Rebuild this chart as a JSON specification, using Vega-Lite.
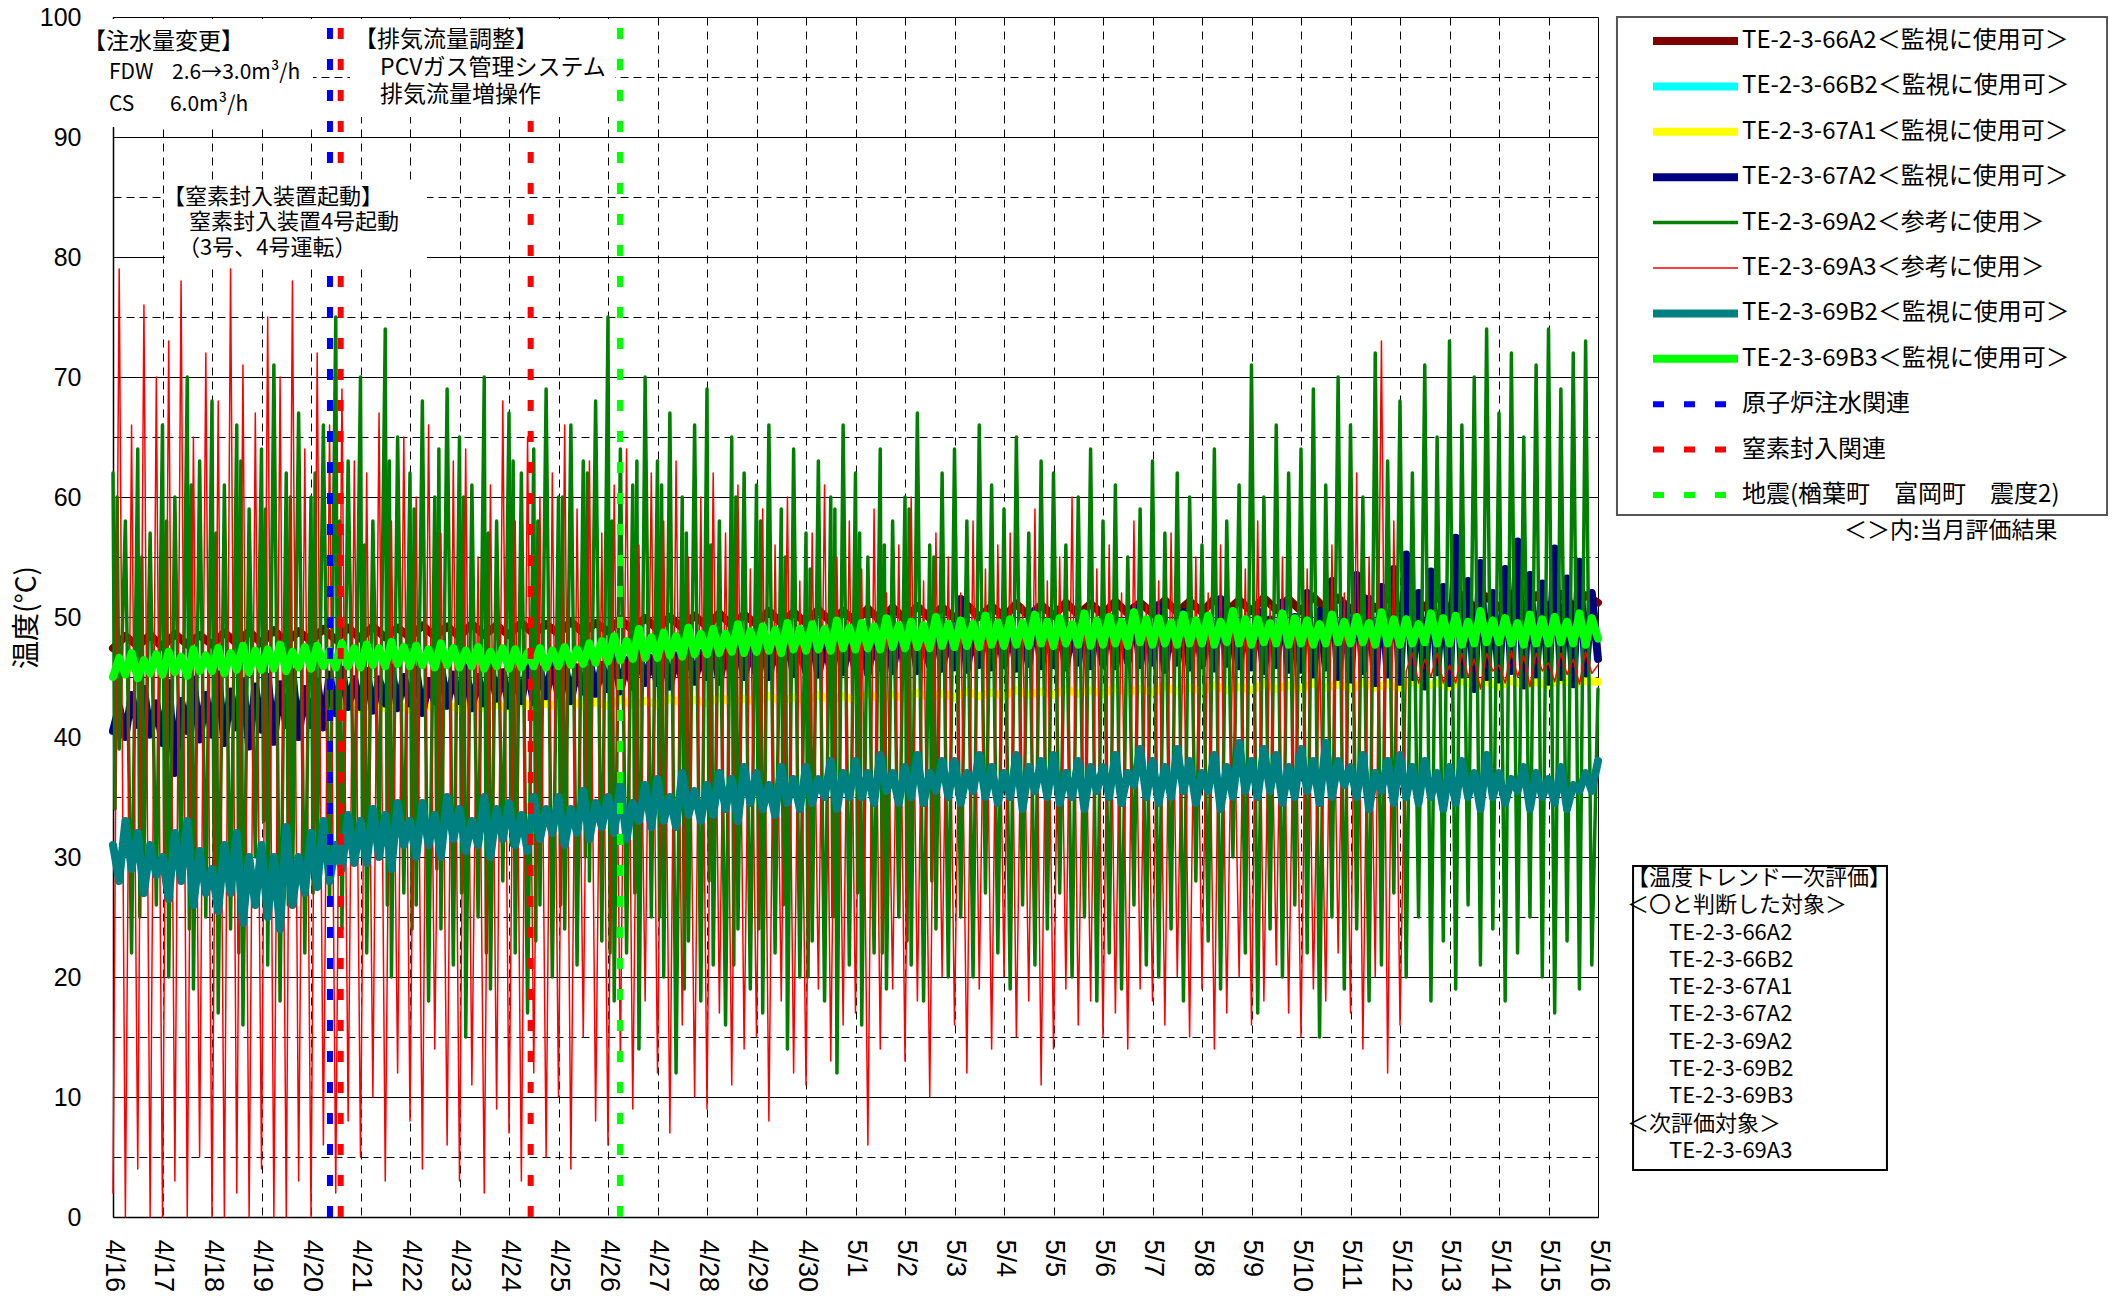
{
"$schema":"https://vega.github.io/schema/vega-lite/v6.json",
"width":1485,"height":1200,
"autosize":{"type":"none"},
"padding":{"left":113,"top":17,"right":520,"bottom":84},
"background":"white",
"config":{
 "view":{"stroke":null},
 "axis":{"gridColor":"#000","gridOpacity":1,"gridWidth":1,"domainColor":"#000","domainWidth":1.5,"ticks":false,"tickSize":0,"labelColor":"#000","labelFont":"Liberation Sans","labelFontSize":25,"labelOverlap":false,"labelFlush":false,"labelBound":false},
 "axisX":{"labelAngle":90,"labelPadding":22,"labelFontSize":27},
 "axisY":{"labelPadding":32},
 "legend":{"symbolType":"stroke","symbolSize":7225,"clipHeight":22,"rowPadding":21.4,"padding":0,"labelFont":"Noto Sans CJK JP","labelFontSize":24,"labelColor":"#000","labelLimit":0,"labelOffset":0,"symbolOffset":0}
},
"layer":[
{
"data":{"values":[
{"t":0,"a":47.4,"d":40.5,"e":62,"f":2,"g":31,"h":45},
{"t":3,"d":42.5,"e":39,"f":79,"g":28,"h":46.6},
{"t":6,"a":48.4,"d":40,"e":58,"f":0,"g":33,"h":45.2},
{"t":9,"d":43.5,"e":22,"f":66,"g":29,"h":47},
{"t":12,"a":47.6,"d":41,"e":64,"f":4,"g":32,"h":44.9},
{"t":15,"d":44,"e":30,"f":76,"g":27,"h":46.4},
{"t":18,"a":48.5,"d":40.2,"e":57,"f":0,"g":31,"h":45.3},
{"t":21,"d":42.8,"e":26,"f":70,"g":28.5,"h":46.9},
{"t":24,"a":47.5,"d":39.5,"e":66,"f":0,"g":30,"h":45.2},
{"t":27,"d":44.5,"e":20,"f":73,"g":26.5,"h":47.1},
{"t":30,"a":48.6,"d":37,"e":60,"f":3,"g":32,"h":45.4},
{"t":33,"d":43,"e":28,"f":78,"g":28,"h":46.7},
{"t":36,"a":47.7,"d":40.5,"e":70,"f":0,"g":33,"h":45.1},
{"t":39,"d":44.8,"e":19,"f":65,"g":26,"h":47.3},
{"t":42,"a":48.5,"d":39.8,"e":63,"f":5,"g":30.5,"h":45.5},
{"t":45,"d":43.5,"e":25,"f":72,"g":27,"h":46.8},
{"t":48,"a":47.7,"d":40.2,"e":68,"f":0,"g":29,"h":45.5},
{"t":51,"d":45.2,"e":17,"f":68,"g":25.5,"h":47.4},
{"t":54,"a":48.7,"d":39.5,"e":61,"f":0,"g":31,"h":45.3},
{"t":57,"d":43.8,"e":24,"f":79,"g":27,"h":47},
{"t":60,"a":47.8,"d":40.8,"e":66,"f":2,"g":32,"h":45.6},
{"t":63,"d":44.6,"e":16,"f":71,"g":24.5,"h":47.6},
{"t":66,"a":48.8,"d":39.2,"e":59,"f":0,"g":30,"h":45.4},
{"t":69,"d":44.2,"e":30,"f":67,"g":26,"h":47.2},
{"t":72,"a":47.8,"d":40.6,"e":64,"f":4,"g":31,"h":45.6},
{"t":75,"d":45,"e":21,"f":75,"g":25,"h":47.3},
{"t":78,"a":48.9,"d":39.6,"e":71,"f":0,"g":30,"h":45.7},
{"t":81,"d":44.4,"e":18,"f":70,"g":24,"h":47.7},
{"t":84,"a":47.9,"d":41,"e":62,"f":0,"g":32.5,"h":45.5},
{"t":87,"d":45.4,"e":27,"f":78,"g":26,"h":47.1},
{"t":90,"a":48.8,"d":40,"e":67,"f":3,"g":30,"h":45.8},
{"t":93,"d":44,"e":22,"f":64,"g":27,"h":47.5},
{"t":96,"a":48,"c":42.3,"d":41,"e":60,"f":0,"g":32,"h":45.7},
{"t":99,"d":44.6,"e":29,"f":72,"g":27.5,"h":47.6},
{"t":102,"a":49,"c":42.8,"d":40.8,"e":66,"f":6,"g":33,"h":45.9},
{"t":105,"d":45.2,"e":26,"f":66,"g":28,"h":47.2},
{"t":108,"a":48.1,"c":42.4,"d":42,"e":75,"f":2,"g":31,"h":45.8},
{"t":111,"d":45.6,"e":24,"f":69,"g":29,"h":47.8},
{"t":114,"a":49.1,"c":42.7,"d":42.5,"e":63,"f":8,"g":33.5,"h":45.9},
{"t":117,"d":44.8,"e":30,"f":63,"g":29.5,"h":47.4},
{"t":120,"a":48.2,"c":42.3,"d":42.5,"e":70,"f":5,"g":33,"h":45.8},
{"t":123,"d":45.5,"e":22,"f":62,"g":29.5,"h":47.7},
{"t":126,"a":49.2,"c":42.8,"d":42.2,"e":58,"f":10,"g":34,"h":46},
{"t":129,"d":44.8,"e":31,"f":67,"g":30,"h":47.4},
{"t":132,"a":48.3,"c":42.4,"d":42.8,"e":74,"f":3,"g":33.5,"h":45.9},
{"t":135,"d":45.8,"e":20,"f":58,"g":29,"h":47.9},
{"t":138,"a":49.1,"c":42.7,"d":42.4,"e":65,"f":12,"g":34.5,"h":46.1},
{"t":141,"d":45,"e":27,"f":65,"g":31,"h":47.5},
{"t":144,"a":48.3,"c":42.3,"d":42.8,"e":62,"f":8,"g":33,"h":45.9},
{"t":147,"d":45.6,"e":26,"f":60,"g":30,"h":47.6},
{"t":150,"a":49.3,"c":42.8,"d":42,"e":68,"f":4,"g":34.5,"h":46},
{"t":153,"d":44.6,"e":18,"f":66,"g":31,"h":47.3},
{"t":156,"a":48.4,"c":42.4,"d":43,"e":60,"f":14,"g":33.5,"h":45.8},
{"t":159,"d":45.9,"e":24,"f":57,"g":30,"h":47.8},
{"t":162,"a":49.2,"c":42.7,"d":42.6,"e":69,"f":6,"g":35,"h":46},
{"t":165,"d":45.2,"e":21,"f":63,"g":31.5,"h":47.4},
{"t":168,"a":48.4,"c":42.3,"d":43,"e":65,"f":3,"g":34,"h":45.8},
{"t":171,"d":45.8,"e":15,"f":64,"g":30.5,"h":47.2},
{"t":174,"a":49.4,"c":42.8,"d":42.4,"e":61,"f":11,"g":33,"h":45.9},
{"t":177,"d":45,"e":25,"f":55,"g":31,"h":47.5},
{"t":180,"a":48.5,"c":42.4,"d":42.8,"e":70,"f":2,"g":35,"h":45.7},
{"t":183,"d":46,"e":19,"f":61,"g":30,"h":47.1},
{"t":186,"a":49.3,"c":42.7,"d":43.2,"e":58,"f":9,"g":34,"h":45.9},
{"t":189,"d":45.4,"e":28,"f":68,"g":31.5,"h":47.4},
{"t":192,"a":48.5,"c":42.4,"d":42.6,"e":67,"f":7,"g":34.5,"h":45.7},
{"t":195,"d":45.4,"e":22,"f":58,"g":31,"h":47.3},
{"t":198,"a":49.5,"c":42.9,"d":43,"e":62,"f":3,"g":33.5,"h":45.8},
{"t":201,"d":46,"e":17,"f":65,"g":30.5,"h":47},
{"t":204,"a":48.6,"c":42.5,"d":42.9,"e":64,"f":12,"g":35,"h":45.9},
{"t":207,"d":45.6,"e":26,"f":60,"g":31.5,"h":47.4},
{"t":210,"a":49.4,"c":42.8,"d":43.4,"e":69,"f":5,"g":34,"h":45.8},
{"t":213,"d":46.2,"e":20,"f":62,"g":32,"h":47.2},
{"t":216,"a":48.6,"c":42.5,"d":43.5,"e":60,"f":10,"g":35,"h":45.9},
{"t":219,"d":46.2,"e":24,"f":66,"g":31,"h":47.5},
{"t":222,"a":49.6,"c":43,"d":43,"e":66,"f":4,"g":34,"h":46},
{"t":225,"d":45.8,"e":21,"f":59,"g":32,"h":47.3},
{"t":228,"a":48.7,"c":42.6,"d":43.8,"e":63,"f":15,"g":35.5,"h":46.1},
{"t":231,"d":46.5,"e":28,"f":63,"g":31.5,"h":47.8},
{"t":234,"a":49.5,"c":42.9,"d":43.6,"e":68,"f":8,"g":34.5,"h":46.2},
{"t":237,"d":46,"e":23,"f":57,"g":32.5,"h":48},
{"t":240,"a":48.8,"c":42.6,"d":44,"e":75,"f":6,"g":35,"h":46.3},
{"t":243,"d":46.8,"e":18,"f":61,"g":32,"h":48.4},
{"t":246,"a":49.8,"c":43.1,"d":43.8,"e":64,"f":13,"g":36,"h":46.4},
{"t":249,"d":46.4,"e":22,"f":64,"g":31.5,"h":48},
{"t":252,"a":48.9,"c":42.7,"d":44.2,"e":61,"f":9,"g":34.5,"h":46.5},
{"t":255,"d":47,"e":14,"f":56,"g":33,"h":49},
{"t":258,"a":49.9,"c":43,"d":44.5,"e":70,"f":18,"g":36,"h":46.6},
{"t":261,"d":46.6,"e":25,"f":62,"g":32.5,"h":48.3},
{"t":264,"a":49,"c":42.7,"d":44.5,"e":63,"f":12,"g":36.5,"h":46.6},
{"t":267,"d":47.2,"e":20,"f":58,"g":33,"h":48.7},
{"t":270,"a":50,"c":43.2,"d":44.2,"e":67,"f":7,"g":35,"h":46.8},
{"t":273,"d":46.8,"e":12,"f":63,"g":32.5,"h":48.4},
{"t":276,"a":49.1,"c":42.8,"d":44.8,"e":60,"f":16,"g":37,"h":46.7},
{"t":279,"d":47.4,"e":23,"f":55,"g":33.5,"h":49.1},
{"t":282,"a":50.1,"c":43.1,"d":44.6,"e":66,"f":10,"g":35.5,"h":46.9},
{"t":285,"d":47,"e":18,"f":60,"g":33,"h":48.6},
{"t":288,"a":49.2,"c":42.8,"d":45,"e":69,"f":9,"g":36,"h":46.9},
{"t":291,"d":47.5,"e":21,"f":62,"g":33.5,"h":49},
{"t":294,"a":50.3,"c":43.3,"d":44.6,"e":58,"f":17,"g":37,"h":47},
{"t":297,"d":47.2,"e":16,"f":57,"g":34,"h":48.6},
{"t":300,"a":49.3,"c":42.9,"d":45.2,"e":65,"f":11,"g":36.5,"h":47.1},
{"t":303,"d":47.8,"e":24,"f":61,"g":33,"h":49.4},
{"t":306,"a":50.2,"c":43.2,"d":45,"e":62,"f":14,"g":37.5,"h":47},
{"t":309,"d":47.4,"e":19,"f":54,"g":34.5,"h":48.8},
{"t":312,"a":49.4,"c":42.9,"d":45.2,"e":61,"f":15,"g":37,"h":47.1},
{"t":315,"d":48,"e":17,"f":59,"g":34,"h":49.2},
{"t":318,"a":50.5,"c":43.4,"d":45,"e":66,"f":8,"g":36,"h":47.2},
{"t":321,"d":47.6,"e":22,"f":56,"g":33.5,"h":48.9},
{"t":324,"a":49.5,"c":43,"d":45.4,"e":59,"f":18,"g":37.5,"h":47},
{"t":327,"d":48.4,"e":14,"f":60,"g":34.5,"h":49.5},
{"t":330,"a":50.4,"c":43.3,"d":45.3,"e":64,"f":12,"g":36.5,"h":47.3},
{"t":333,"d":47.8,"e":20,"f":53,"g":34,"h":49},
{"t":336,"a":49.5,"c":43,"d":45.5,"e":57,"f":11,"g":37.5,"h":47.2},
{"t":339,"d":48.2,"e":23,"f":57,"g":34.5,"h":49.4},
{"t":342,"a":50.6,"c":43.5,"d":45.2,"e":63,"f":19,"g":36.5,"h":47.3},
{"t":345,"d":47.8,"e":18,"f":61,"g":35,"h":49},
{"t":348,"a":49.6,"c":43.1,"d":45.6,"e":60,"f":13,"g":38,"h":47.2},
{"t":351,"d":48.6,"e":12,"f":55,"g":34,"h":49.7},
{"t":354,"a":50.5,"c":43.4,"d":45.4,"e":66,"f":16,"g":37,"h":47.4},
{"t":357,"d":48,"e":21,"f":58,"g":35,"h":49.1},
{"t":360,"a":49.6,"c":43.1,"d":45.6,"e":62,"f":17,"g":38,"h":47.3},
{"t":363,"d":48.8,"e":16,"f":54,"g":35,"h":49.5},
{"t":366,"a":50.7,"c":43.6,"d":45.3,"e":55,"f":6,"g":37,"h":47.4},
{"t":369,"d":48.2,"e":22,"f":59,"g":34.5,"h":49.2},
{"t":372,"a":49.7,"c":43.2,"d":45.8,"e":64,"f":14,"g":38.5,"h":47.3},
{"t":375,"d":50,"e":19,"f":52,"g":35.5,"h":49.9},
{"t":378,"a":50.8,"c":43.5,"d":45.5,"e":58,"f":19,"g":37,"h":47.5},
{"t":381,"d":48.4,"e":25,"f":56,"g":34.5,"h":49.3},
{"t":384,"a":49.8,"c":43.2,"d":45.8,"e":60,"f":13,"g":37.5,"h":47.4},
{"t":387,"d":49,"e":21,"f":60,"g":35,"h":49.6},
{"t":390,"a":50.9,"c":43.7,"d":45.5,"e":67,"f":18,"g":38.5,"h":47.5},
{"t":393,"d":48.5,"e":18,"f":53,"g":34.5,"h":49.3},
{"t":396,"a":49.9,"c":43.3,"d":46,"e":56,"f":10,"g":37,"h":47.4},
{"t":399,"d":49.4,"e":24,"f":57,"g":35.5,"h":50},
{"t":402,"a":50.8,"c":43.6,"d":45.7,"e":62,"f":20,"g":38,"h":47.6},
{"t":405,"d":48.6,"e":20,"f":55,"g":35,"h":49.4},
{"t":408,"a":49.9,"c":43.3,"d":45.8,"e":64,"f":16,"g":38,"h":47.5},
{"t":411,"d":51.5,"e":25,"f":52,"g":34.5,"h":49.7},
{"t":414,"a":51,"c":43.8,"d":45.6,"e":58,"f":12,"g":37,"h":47.6},
{"t":417,"d":48.8,"e":20,"f":58,"g":35.5,"h":49.4},
{"t":420,"a":50,"c":43.4,"d":46,"e":66,"f":19,"g":38.5,"h":47.5},
{"t":423,"d":49.6,"e":27,"f":54,"g":35,"h":50.1},
{"t":426,"a":50.9,"c":43.7,"d":45.8,"e":61,"f":14,"g":37.5,"h":47.7},
{"t":429,"d":49,"e":22,"f":56,"g":34.5,"h":49.5},
{"t":432,"a":50,"c":43.4,"d":46,"e":59,"f":20,"g":37,"h":47.6},
{"t":435,"d":49.5,"e":19,"f":57,"g":35,"h":49.8},
{"t":438,"a":51.1,"c":43.9,"d":45.7,"e":65,"f":15,"g":38.5,"h":47.7},
{"t":441,"d":49,"e":26,"f":51,"g":34,"h":49.5},
{"t":444,"a":50.1,"c":43.5,"d":46.1,"e":57,"f":18,"g":37.5,"h":47.6},
{"t":447,"d":50.5,"e":21,"f":59,"g":35.5,"h":50.2},
{"t":450,"a":51,"c":43.8,"d":45.9,"e":63,"f":11,"g":38,"h":47.8},
{"t":453,"d":49.2,"e":24,"f":53,"g":35,"h":49.6},
{"t":456,"a":50.1,"c":43.5,"d":46,"e":62,"f":14,"g":38.5,"h":47.6},
{"t":459,"d":49.8,"e":27,"f":55,"g":34.5,"h":49.9},
{"t":462,"a":51.2,"c":44,"d":45.8,"e":56,"f":19,"g":37,"h":47.8},
{"t":465,"d":49.1,"e":20,"f":60,"g":35,"h":49.4},
{"t":468,"a":50.2,"c":43.6,"d":46.2,"e":60,"f":16,"g":38,"h":47.7},
{"t":471,"d":50.2,"e":25,"f":50,"g":34,"h":50.3},
{"t":474,"a":51.1,"c":43.9,"d":45.9,"e":64,"f":18,"g":37.5,"h":47.6},
{"t":477,"d":49.4,"e":18,"f":54,"g":35.5,"h":49.7},
{"t":480,"a":50.2,"c":43.6,"d":46.1,"e":58,"f":15,"g":37.5,"h":47.7},
{"t":483,"d":50,"e":22,"f":56,"g":35,"h":50},
{"t":486,"a":51.3,"c":44.1,"d":45.9,"e":61,"f":17,"g":38.5,"h":47.8},
{"t":489,"d":49.3,"e":19,"f":52,"g":34.5,"h":49.6},
{"t":492,"a":50.3,"c":43.7,"d":46.3,"e":55,"f":14,"g":37,"h":47.6},
{"t":495,"d":50.8,"e":26,"f":58,"g":36,"h":50.4},
{"t":498,"a":51.2,"c":44,"d":46,"e":59,"f":19,"g":39,"h":47.9},
{"t":501,"d":49.5,"e":21,"f":51,"g":35,"h":49.8},
{"t":504,"a":50.3,"c":43.7,"d":46.2,"e":63,"f":18,"g":38,"h":47.7},
{"t":507,"d":51,"e":20,"f":53,"g":34.5,"h":49.9},
{"t":510,"a":51.4,"c":44.2,"d":45.6,"e":57,"f":16,"g":37.5,"h":47.8},
{"t":513,"d":49.4,"e":24,"f":57,"g":35,"h":49.5},
{"t":516,"a":50.4,"c":43.8,"d":46.2,"e":62,"f":20,"g":39,"h":47.7},
{"t":519,"d":50.4,"e":18,"f":50,"g":35.5,"h":50.2},
{"t":522,"a":51.3,"c":44.1,"d":45.8,"e":60,"f":15,"g":38,"h":47.8},
{"t":525,"d":49.6,"e":28,"f":55,"g":34.5,"h":49.7},
{"t":528,"a":50.4,"c":43.8,"d":46,"e":56,"f":19,"g":37,"h":47.8},
{"t":531,"d":49.8,"e":23,"f":52,"g":35.5,"h":50.1},
{"t":534,"a":51.5,"c":44.3,"d":45.7,"e":64,"f":14,"g":38.5,"h":47.7},
{"t":537,"d":51.5,"e":19,"f":56,"g":34,"h":49.6},
{"t":540,"a":50.5,"c":43.9,"d":46.1,"e":58,"f":17,"g":37.5,"h":47.9},
{"t":543,"d":50.2,"e":30,"f":49,"g":35,"h":50.5},
{"t":546,"a":51.4,"c":44.2,"d":45.9,"e":61,"f":20,"g":39.5,"h":47.8},
{"t":549,"d":49.7,"e":22,"f":54,"g":35.5,"h":49.8},
{"t":552,"a":50.5,"c":43.9,"d":45.8,"e":71,"f":16,"g":38,"h":47.7},
{"t":555,"d":50.5,"e":17,"f":58,"g":35,"h":49.8},
{"t":558,"a":51.6,"c":44.4,"d":45.5,"e":60,"f":18,"g":39,"h":47.9},
{"t":561,"d":49.8,"e":24,"f":51,"g":35.5,"h":49.5},
{"t":564,"a":50.6,"c":44,"d":46,"e":66,"f":21,"g":38.5,"h":47.8},
{"t":567,"d":51.2,"e":20,"f":55,"g":34.5,"h":50.3},
{"t":570,"a":51.5,"c":44.3,"d":45.6,"e":62,"f":17,"g":37.5,"h":47.7},
{"t":573,"d":50,"e":26,"f":50,"g":35,"h":49.9},
{"t":576,"a":50.5,"c":44,"d":45.6,"e":64,"f":15,"g":39,"h":47.8},
{"t":579,"d":52,"e":22,"f":54,"g":35.5,"h":49.7},
{"t":582,"a":51.7,"c":44.5,"d":45.2,"e":69,"f":19,"g":38,"h":47.7},
{"t":585,"d":50.5,"e":15,"f":48,"g":34.5,"h":49.4},
{"t":588,"a":50.6,"c":44.1,"d":45.8,"e":61,"f":18,"g":39.5,"h":47.8},
{"t":591,"d":53,"e":25,"f":56,"g":35,"h":50.2},
{"t":594,"a":51.6,"c":44.4,"d":45,"e":70,"f":22,"g":38,"h":47.9},
{"t":597,"d":51,"e":19,"f":52,"g":36,"h":49.6},
{"t":600,"a":50.6,"c":44,"d":44.8,"e":66,"f":17,"g":37.5,"h":47.8},
{"t":603,"d":53.5,"e":24,"f":62,"g":35,"h":50},
{"t":606,"a":51.7,"c":44.5,"d":45.5,"e":60,"f":14,"g":38.5,"h":47.9},
{"t":609,"d":51.5,"e":18,"f":55,"g":34,"h":49.5},
{"t":612,"a":50.7,"c":44.1,"d":44.5,"e":72,"f":20,"g":37,"h":47.7},
{"t":615,"d":52.5,"e":21,"f":73,"g":35.5,"h":50.4},
{"t":618,"a":51.6,"c":44.4,"d":45.2,"e":63,"f":12,"g":38,"h":47.8},
{"t":621,"d":54,"e":27,"f":58,"g":34.5,"h":49.8},
{"t":624,"a":50.7,"c":44.1,"d":44.6,"e":68,"f":16,"g":38.5,"h":47.7},
{"t":627,"d":55.2,"e":20,"f":45.5,"g":35,"h":49.8},
{"t":630,"a":51.8,"c":44.6,"d":45,"e":62,"f":47,"g":37.5,"h":47.8},
{"t":633,"d":52,"e":25,"f":44.5,"g":34.5,"h":49.4},
{"t":636,"a":50.8,"c":44.2,"d":44.2,"e":71,"f":46.5,"g":38,"h":47.9},
{"t":639,"d":53.8,"e":18,"f":45,"g":35,"h":50.3},
{"t":642,"a":51.7,"c":44.5,"d":45.4,"e":65,"f":47,"g":37,"h":47.8},
{"t":645,"d":52.5,"e":23,"f":44.5,"g":34,"h":49.9},
{"t":648,"a":50.7,"c":44.2,"d":44.5,"e":73,"f":46,"g":37.5,"h":47.8},
{"t":651,"d":56.6,"e":19,"f":44.5,"g":34.5,"h":50.1},
{"t":654,"a":51.8,"c":44.7,"d":45.2,"e":66,"f":47,"g":38,"h":47.7},
{"t":657,"d":53,"e":26,"f":45,"g":35,"h":49.6},
{"t":660,"a":50.8,"c":44.3,"d":44,"e":70,"f":46.5,"g":37,"h":47.8},
{"t":663,"d":54.5,"e":21,"f":44,"g":34,"h":50.5},
{"t":666,"a":51.7,"c":44.6,"d":45,"e":74,"f":47,"g":38.5,"h":47.9},
{"t":669,"d":52,"e":24,"f":45.5,"g":35,"h":49.7},
{"t":672,"a":50.8,"c":44.2,"d":44.8,"e":67,"f":46,"g":37,"h":47.9},
{"t":675,"d":54,"e":18,"f":44.5,"g":34.5,"h":49.9},
{"t":678,"a":51.9,"c":44.7,"d":45.5,"e":72,"f":47.2,"g":36.5,"h":47.8},
{"t":681,"d":56.3,"e":22,"f":45,"g":35.5,"h":49.5},
{"t":684,"a":50.9,"c":44.3,"d":44.3,"e":65,"f":46.8,"g":37.5,"h":47.7},
{"t":687,"d":53.5,"e":25,"f":44.2,"g":34,"h":50.2},
{"t":690,"a":51.8,"c":44.6,"d":45.2,"e":71,"f":47,"g":37,"h":47.8},
{"t":693,"d":52.8,"e":20,"f":45.5,"g":35,"h":49.8},
{"t":696,"a":50.8,"c":44.3,"d":44.6,"e":74,"f":46.2,"g":36.5,"h":47.8},
{"t":699,"d":55.7,"e":17,"f":44.6,"g":34.5,"h":50},
{"t":702,"a":51.9,"c":44.8,"d":45,"e":69,"f":47,"g":37.5,"h":47.9},
{"t":705,"d":53.2,"e":23,"f":45.2,"g":34,"h":49.6},
{"t":708,"a":50.9,"c":44.4,"d":44.4,"e":72,"f":46.5,"g":36,"h":47.8},
{"t":711,"d":54.6,"e":19,"f":44.4,"g":35.5,"h":50.3},
{"t":714,"a":51.8,"c":44.7,"d":45.3,"e":73,"f":47.1,"g":37,"h":47.7},
{"t":717,"d":52,"e":21,"f":45.3,"g":35.5,"h":49.9},
{"t":720,"a":51.2,"c":44.6,"d":46.5,"e":44,"f":46,"g":38,"h":48.2},
{"t":1,"e":34},{"t":2,"e":60},{"t":13,"e":25},{"t":14,"e":55},
{"t":25,"e":30},{"t":26,"e":58},{"t":37,"e":24},{"t":38,"e":61},
{"t":49,"e":28},{"t":50,"e":57},{"t":61,"e":22},{"t":62,"e":63},
{"t":73,"e":33},{"t":74,"e":59},{"t":85,"e":26},{"t":86,"e":60},
{"t":97,"e":27},{"t":98,"e":62},{"t":109,"e":31},{"t":110,"e":58},
{"t":121,"e":30},{"t":122,"e":56},{"t":133,"e":26},{"t":134,"e":63},
{"t":145,"e":24},{"t":146,"e":59},{"t":157,"e":29},{"t":158,"e":64},
{"t":169,"e":27},{"t":170,"e":60},{"t":181,"e":22},{"t":182,"e":57},
{"t":193,"e":31},{"t":194,"e":63},{"t":205,"e":23},{"t":206,"e":58},
{"t":217,"e":26},{"t":218,"e":60},{"t":229,"e":30},{"t":230,"e":62},
{"t":241,"e":22},{"t":242,"e":58},{"t":253,"e":27},{"t":254,"e":63},
{"t":265,"e":25},{"t":266,"e":61},{"t":277,"e":19},{"t":278,"e":57},
{"t":289,"e":28},{"t":290,"e":56},{"t":301,"e":21},{"t":302,"e":60},
{"t":313,"e":24},{"t":314,"e":58},{"t":325,"e":26},{"t":326,"e":55},
{"t":337,"e":20},{"t":338,"e":54},{"t":349,"e":25},{"t":350,"e":59},
{"t":361,"e":27},{"t":362,"e":57},{"t":373,"e":22},{"t":374,"e":56},
{"t":385,"e":23},{"t":386,"e":59},{"t":397,"e":28},{"t":398,"e":55}
]},
"transform":[
 {"fold":["a","c","d","e","f","g","h"],"as":["k","v"]},
 {"filter":"isValid(datum.v)"},
 {"lookup":"k","from":{"data":{"values":[
  {"k":"a","n":"TE-2-3-66A2＜監視に使用可＞"},
  {"k":"c","n":"TE-2-3-67A1＜監視に使用可＞"},
  {"k":"d","n":"TE-2-3-67A2＜監視に使用可＞"},
  {"k":"e","n":"TE-2-3-69A2＜参考に使用＞"},
  {"k":"f","n":"TE-2-3-69A3＜参考に使用＞"},
  {"k":"g","n":"TE-2-3-69B2＜監視に使用可＞"},
  {"k":"h","n":"TE-2-3-69B3＜監視に使用可＞"}]},"key":"k","fields":["n"]}}
],
"encoding":{
 "x":{"field":"t","type":"quantitative","scale":{"domain":[0,720],"nice":false,"zero":false},
  "axis":{"title":null,"values":[0,24,48,72,96,120,144,168,192,216,240,264,288,312,336,360,384,408,432,456,480,504,528,552,576,600,624,648,672,696,720],
   "labelExpr":"datum.value < 360 ? '4/' + (16 + datum.value / 24) : '5/' + (datum.value / 24 - 14)",
   "gridDash":{"condition":{"test":"datum.value === 720","value":[]},"value":[8,6]}}},
 "y":{"field":"v","type":"quantitative","scale":{"domain":[0,100],"nice":false,"zero":true},
  "axis":{"title":"温度(°C)","titleFont":"Noto Sans CJK JP","titleFontSize":28,"titleFontWeight":"normal","titleColor":"#000","titleX":-86,"titleY":600,"titleAlign":"center","titleBaseline":"middle",
   "values":[0,5,10,15,20,25,30,35,40,45,50,55,60,65,70,75,80,85,90,95,100],
   "labelExpr":"datum.value % 10 === 0 ? datum.label : ''",
   "gridDash":{"condition":{"test":"datum.value % 10 !== 0","value":[8,5]},"value":[]}}},
 "order":{"field":"t","type":"quantitative"},
 "color":{"field":"n","type":"nominal",
  "scale":{"domain":["TE-2-3-66A2＜監視に使用可＞","TE-2-3-66B2＜監視に使用可＞","TE-2-3-67A1＜監視に使用可＞","TE-2-3-67A2＜監視に使用可＞","TE-2-3-69A2＜参考に使用＞","TE-2-3-69A3＜参考に使用＞","TE-2-3-69B2＜監視に使用可＞","TE-2-3-69B3＜監視に使用可＞","原子炉注水関連","窒素封入関連","地震(楢葉町　富岡町　震度2)"],
   "range":["#800000","#00FFFF","#FFFF00","#000080","#008000","#FF0000","#008080","#00FF00","#0000FF","#FF0000","#00FF00"]},
  "legend":{"title":null,"orient":"none","legendX":1536,"legendY":13}},
 "strokeWidth":{"field":"n","type":"nominal",
  "scale":{"type":"ordinal","domain":["TE-2-3-66A2＜監視に使用可＞","TE-2-3-66B2＜監視に使用可＞","TE-2-3-67A1＜監視に使用可＞","TE-2-3-67A2＜監視に使用可＞","TE-2-3-69A2＜参考に使用＞","TE-2-3-69A3＜参考に使用＞","TE-2-3-69B2＜監視に使用可＞","TE-2-3-69B3＜監視に使用可＞","原子炉注水関連","窒素封入関連","地震(楢葉町　富岡町　震度2)"],
   "range":[8,8,8,8,3.5,1.5,8,8,6,6,6]},
  "legend":{"title":null}},
 "strokeDash":{"field":"n","type":"nominal",
  "scale":{"domain":["TE-2-3-66A2＜監視に使用可＞","TE-2-3-66B2＜監視に使用可＞","TE-2-3-67A1＜監視に使用可＞","TE-2-3-67A2＜監視に使用可＞","TE-2-3-69A2＜参考に使用＞","TE-2-3-69A3＜参考に使用＞","TE-2-3-69B2＜監視に使用可＞","TE-2-3-69B3＜監視に使用可＞","原子炉注水関連","窒素封入関連","地震(楢葉町　富岡町　震度2)"],
   "range":[[1,0],[1,0],[1,0],[1,0],[1,0],[1,0],[1,0],[1,0],[11,20],[11,20],[11,20]]},
  "legend":{"title":null}}
},
"layer":[
 {"transform":[{"filter":"datum.k === 'a'"}],"mark":{"type":"line","strokeJoin":"round","strokeCap":"round"}},
 {"transform":[{"filter":"datum.k === 'c'"}],"mark":{"type":"line","strokeJoin":"round","strokeCap":"round"}},
 {"transform":[{"filter":"datum.k === 'd'"}],"mark":{"type":"line","strokeJoin":"round","strokeCap":"round"}},
 {"transform":[{"filter":"datum.k === 'e'"}],"mark":{"type":"line","strokeJoin":"round","strokeCap":"round"}},
 {"transform":[{"filter":"datum.k === 'f'"}],"mark":{"type":"line","strokeJoin":"round","strokeCap":"round"}},
 {"transform":[{"filter":"datum.k === 'g'"}],"mark":{"type":"line","strokeJoin":"round","strokeCap":"round"}},
 {"transform":[{"filter":"datum.k === 'h'"}],"mark":{"type":"line","strokeJoin":"round","strokeCap":"round"}}
]
},
{"data":{"values":[{"t":105.2,"n":"原子炉注水関連"},{"t":110.4,"n":"窒素封入関連"},{"t":202.5,"n":"窒素封入関連"},{"t":245.8,"n":"地震(楢葉町　富岡町　震度2)"}]},
 "mark":{"type":"rule","strokeCap":"butt"},
 "encoding":{"x":{"field":"t","type":"quantitative"},"y":{"datum":0,"type":"quantitative"},"y2":{"datum":100},
  "color":{"field":"n","type":"nominal"},"strokeWidth":{"field":"n","type":"nominal","scale":{"type":"ordinal"}},"strokeDash":{"field":"n","type":"nominal"}}},
{"data":{"values":[{}]},"mark":{"type":"rect","fill":"white"},"encoding":{"x":{"datum":-12.1,"type":"quantitative"},"x2":{"datum":97},"y":{"datum":99.83,"type":"quantitative"},"y2":{"datum":90.83}}},
{"data":{"values":[{}]},"mark":{"type":"rect","fill":"white"},"encoding":{"x":{"datum":25.2,"type":"quantitative"},"x2":{"datum":152.2},"y":{"datum":86.25,"type":"quantitative"},"y2":{"datum":79.33}}},
{"data":{"values":[{}]},"mark":{"type":"rect","fill":"white"},"encoding":{"x":{"datum":114.9,"type":"quantitative"},"x2":{"datum":243.4},"y":{"datum":99.83,"type":"quantitative"},"y2":{"datum":91.67}}},
{"data":{"values":[{}]},"mark":{"type":"rect","fill":"white","stroke":"#555","strokeWidth":2},"encoding":{"x":{"datum":729.2,"type":"quantitative"},"x2":{"datum":966.8},"y":{"datum":100,"type":"quantitative"},"y2":{"datum":58.5}}},
{"data":{"values":[{}]},"mark":{"type":"rect","fill":"white","stroke":"#000","strokeWidth":2},"encoding":{"x":{"datum":737.0,"type":"quantitative"},"x2":{"datum":860.1},"y":{"datum":29.25,"type":"quantitative"},"y2":{"datum":3.92}}},
{"data":{"values":[{}]},"mark":{"type":"text","text":"【注水量変更】","align":"left","baseline":"middle","font":"Noto Sans CJK JP","fontSize":23,"color":"#000"},"encoding":{"x":{"datum":-14.5,"type":"quantitative"},"y":{"datum":97.92,"type":"quantitative"}}},
{"data":{"values":[{}]},"mark":{"type":"text","text":"FDW","align":"left","baseline":"middle","font":"Noto Sans CJK JP","fontSize":21,"color":"#000"},"encoding":{"x":{"datum":-1.94,"type":"quantitative"},"y":{"datum":95.33,"type":"quantitative"}}},
{"data":{"values":[{}]},"mark":{"type":"text","text":"2.6→3.0m³/h","align":"left","baseline":"middle","font":"Noto Sans CJK JP","fontSize":21,"color":"#000"},"encoding":{"x":{"datum":28.6,"type":"quantitative"},"y":{"datum":95.33,"type":"quantitative"}}},
{"data":{"values":[{}]},"mark":{"type":"text","text":"CS","align":"left","baseline":"middle","font":"Noto Sans CJK JP","fontSize":21,"color":"#000"},"encoding":{"x":{"datum":-1.94,"type":"quantitative"},"y":{"datum":92.67,"type":"quantitative"}}},
{"data":{"values":[{}]},"mark":{"type":"text","text":"6.0m³/h","align":"left","baseline":"middle","font":"Noto Sans CJK JP","fontSize":21,"color":"#000"},"encoding":{"x":{"datum":27.6,"type":"quantitative"},"y":{"datum":92.67,"type":"quantitative"}}},
{"data":{"values":[{}]},"mark":{"type":"text","text":"【窒素封入装置起動】","align":"left","baseline":"middle","font":"Noto Sans CJK JP","fontSize":22,"color":"#000"},"encoding":{"x":{"datum":24.3,"type":"quantitative"},"y":{"datum":85.0,"type":"quantitative"}}},
{"data":{"values":[{}]},"mark":{"type":"text","text":"窒素封入装置4号起動","align":"left","baseline":"middle","font":"Noto Sans CJK JP","fontSize":22,"color":"#000"},"encoding":{"x":{"datum":36.8,"type":"quantitative"},"y":{"datum":82.92,"type":"quantitative"}}},
{"data":{"values":[{}]},"mark":{"type":"text","text":"（3号、4号運転）","align":"left","baseline":"middle","font":"Noto Sans CJK JP","fontSize":22,"color":"#000"},"encoding":{"x":{"datum":31.5,"type":"quantitative"},"y":{"datum":80.75,"type":"quantitative"}}},
{"data":{"values":[{}]},"mark":{"type":"text","text":"【排気流量調整】","align":"left","baseline":"middle","font":"Noto Sans CJK JP","fontSize":23,"color":"#000"},"encoding":{"x":{"datum":116.8,"type":"quantitative"},"y":{"datum":98.08,"type":"quantitative"}}},
{"data":{"values":[{}]},"mark":{"type":"text","text":"PCVガス管理システム","align":"left","baseline":"middle","font":"Noto Sans CJK JP","fontSize":23,"color":"#000"},"encoding":{"x":{"datum":129.5,"type":"quantitative"},"y":{"datum":95.75,"type":"quantitative"}}},
{"data":{"values":[{}]},"mark":{"type":"text","text":"排気流量増操作","align":"left","baseline":"middle","font":"Noto Sans CJK JP","fontSize":23,"color":"#000"},"encoding":{"x":{"datum":129.5,"type":"quantitative"},"y":{"datum":93.5,"type":"quantitative"}}},
{"data":{"values":[{}]},"mark":{"type":"text","text":"＜＞内:当月評価結果","align":"left","baseline":"middle","font":"Noto Sans CJK JP","fontSize":23,"color":"#000"},"encoding":{"x":{"datum":839.3,"type":"quantitative"},"y":{"datum":57.17,"type":"quantitative"}}},
{"data":{"values":[{}]},"mark":{"type":"text","text":["【温度トレンド一次評価】","＜〇と判断した対象＞"],"lineHeight":27.3,"align":"left","baseline":"middle","font":"Noto Sans CJK JP","fontSize":22,"color":"#000"},"encoding":{"x":{"datum":734.1,"type":"quantitative"},"y":{"datum":28.25,"type":"quantitative"}}},
{"data":{"values":[{}]},"mark":{"type":"text","text":["TE-2-3-66A2","TE-2-3-66B2","TE-2-3-67A1","TE-2-3-67A2","TE-2-3-69A2","TE-2-3-69B2","TE-2-3-69B3"],"lineHeight":27.3,"align":"left","baseline":"middle","font":"Noto Sans CJK JP","fontSize":22,"color":"#000"},"encoding":{"x":{"datum":754.4,"type":"quantitative"},"y":{"datum":23.7,"type":"quantitative"}}},
{"data":{"values":[{}]},"mark":{"type":"text","text":"＜次評価対象＞","align":"left","baseline":"middle","font":"Noto Sans CJK JP","fontSize":22,"color":"#000"},"encoding":{"x":{"datum":734.1,"type":"quantitative"},"y":{"datum":7.78,"type":"quantitative"}}},
{"data":{"values":[{}]},"mark":{"type":"text","text":"TE-2-3-69A3","align":"left","baseline":"middle","font":"Noto Sans CJK JP","fontSize":22,"color":"#000"},"encoding":{"x":{"datum":754.4,"type":"quantitative"},"y":{"datum":5.5,"type":"quantitative"}}}
]
}
